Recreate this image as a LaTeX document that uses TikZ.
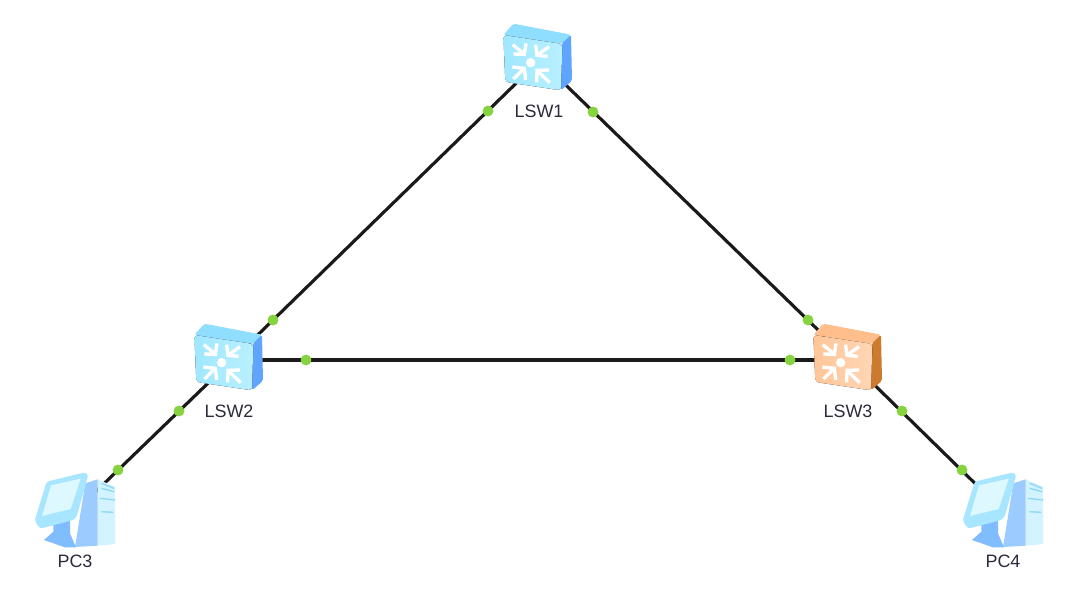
\documentclass[tikz,border=0pt]{standalone}
\usepackage{fontspec}
\setmainfont{Liberation Sans}
\definecolor{linkc}{HTML}{1A1A1A}
\definecolor{dotc}{HTML}{86D33F}
\definecolor{labelc}{HTML}{2A2A3A}
\definecolor{bfl}{HTML}{A0E7FF}
\definecolor{bfr}{HTML}{B8F0FF}
\definecolor{btop}{HTML}{8FDDFF}
\definecolor{bside}{HTML}{5FA5FF}
\definecolor{ofl}{HTML}{FFC598}
\definecolor{ofr}{HTML}{FFD6B5}
\definecolor{otop}{HTML}{FFBE8C}
\definecolor{oside}{HTML}{CC7A2E}
\definecolor{pctw}{HTML}{D2F3FF}
\definecolor{pctd}{HTML}{9CCBFF}
\definecolor{pcst}{HTML}{7FBDFF}
\definecolor{pcmo}{HTML}{A8E6FF}
\definecolor{pcsc}{HTML}{DDF8FF}
\definecolor{pcln}{HTML}{8FD8F8}
\tikzset{
  link/.style={draw=linkc,line width=1.8pt},
  portdot/.style={circle,fill=dotc,draw=none,minimum size=6.2pt,inner sep=0pt},
  devnode/.style={inner sep=0pt,minimum size=0pt},
  devlabel/.style={font=\fontsize{10.2}{12}\selectfont,text=labelc,inner sep=0pt,anchor=center},
  pics/switchicon/.style n args={4}{code={
    \begin{scope}[scale=1/3]
      \fill[fill=#3,rounded corners=1pt] (70,75) -- (100,41) -- (273,74) -- (247,102) -- cycle;
      \fill[fill=#4,rounded corners=1pt] (245,102) -- (273,74) -- (276,212) -- (243,241) -- cycle;
      \fill[left color=#1,right color=#2,rounded corners=2pt] (70,75) -- (247,102) -- (243,241) -- (76,216) -- cycle;
      \fill[white] (152,158) circle (14);
      \begin{scope}[draw=white,line width=1.9pt,line cap=butt,line join=miter]
        \draw (98,104) -- (132,131) (138,100) -- (133,133) -- (100,132);
        \draw (207,110) -- (173,134) (167,104) -- (171,136) -- (203,139);
        \draw (100,207) -- (132,176) (97,171) -- (133,175) -- (137,210);
        \draw (209,218) -- (172,182) (207,180) -- (171,181) -- (170,217);
      \end{scope}
    \end{scope}
  }},
  pics/pcicon/.style={code={
    \begin{scope}[scale=1/3]
      \fill[pctw] (233,88) -- (285,110) -- (285,282) -- (233,287) -- cycle;
      \fill[pctd] (196,100) -- (233,88) -- (233,287) -- (165,291) -- cycle;
      \draw[pcln,line width=.8pt] (245,100) -- (282,115) (245,115) -- (282,125) (240,145) -- (285,150) (245,185) -- (280,187);
      \fill[pcst] (72,270) -- (100,245) -- (100,222) -- (150,210) -- (150,250) -- (168,292) -- (135,292) -- cycle;
      \fill[pcmo,rounded corners=1.5pt] (80,95) -- (195,67) -- (205,75) -- (170,200) -- (160,210) -- (60,236) -- (44,212) -- cycle;
      \fill[pcsc] (93,106) -- (182,86) -- (152,177) -- (66,198) -- cycle;
    \end{scope}
  }}
}
\begin{document}
\begin{tikzpicture}[x=0.02cm,y=-0.02cm]
\useasboundingbox[fill=white] (0,0) rectangle (1071,603);
\node[devnode] (LSW1) at (540,60) {};
\node[devnode] (LSW2) at (232,360) {};
\node[devnode] (LSW3) at (849,360) {};
\node[devnode] (PC3) at (85,502) {};
\node[devnode] (PC4) at (995,503) {};
\draw[link] (LSW1.center) -- (LSW2.center);
\draw[link] (LSW1.center) -- (LSW3.center);
\draw[link] (LSW2.center) -- (LSW3.center);
\draw[link] (LSW2.center) -- (PC3.center);
\draw[link] (LSW3.center) -- (PC4.center);
\pic at (480,10) {switchicon={bfl}{bfr}{btop}{bside}};
\pic at (171,310) {switchicon={bfl}{bfr}{btop}{bside}};
\pic at (790,310) {switchicon={ofl}{ofr}{otop}{oside}};
\pic at (20,450) {pcicon};
\pic at (948,450) {pcicon};
\node[portdot] (d1) at (488,111) {};
\node[portdot] (d2) at (593,112) {};
\node[portdot] (d3) at (273,320) {};
\node[portdot] (d4) at (808,320) {};
\node[portdot] (d5) at (306,360) {};
\node[portdot] (d6) at (790,360) {};
\node[portdot] (d7) at (179,411) {};
\node[portdot] (d8) at (118,470) {};
\node[portdot] (d9) at (902,411) {};
\node[portdot] (d10) at (962,470) {};
\node[devlabel] (l1) at (539,111) {LSW1};
\node[devlabel] (l2) at (229,411) {LSW2};
\node[devlabel] (l3) at (848,411) {LSW3};
\node[devlabel] (l4) at (75,561) {PC3};
\node[devlabel] (l5) at (1003,561) {PC4};
\end{tikzpicture}
\end{document}
